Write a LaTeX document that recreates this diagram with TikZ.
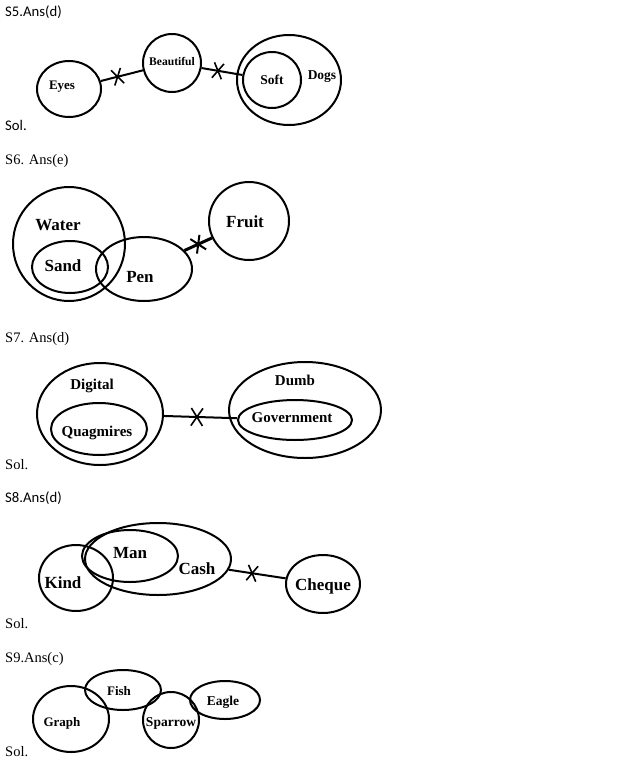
\documentclass[tikz,border=0pt]{standalone}
\usepackage{fontspec}
\setmainfont{Liberation Serif}
\newfontfamily\calibri{Carlito}
\usetikzlibrary{shapes.geometric,shapes.misc}

\tikzset{
  set/.style={ellipse, draw, line width=2pt, inner sep=0pt},
  lbl/.style={font=\bfseries\fontsize{#1}{#1}\selectfont, inner sep=0pt},
  head/.style={anchor=west, inner sep=0pt, font=\fontsize{14.5}{14.5}\selectfont},
  headsf/.style={anchor=west, inner sep=0pt, font=\calibri\fontsize{14.7}{14.7}\selectfont},
  link/.style={line width=2pt},
  cut/.style={cross out, draw, line width=1.6pt, sloped, minimum width=8pt, minimum height=14pt, inner sep=0pt},
}

\begin{document}
\begin{tikzpicture}[x=1pt,y=-1pt]
  \useasboundingbox (0,0) rectangle (627,782);

  % S5
  \node[headsf] (t5) at (5,12) {S5.Ans(d)};
  \node[set, minimum width=64, minimum height=56] (eyes) at (69,89) {};
  \node[set, minimum size=58] (beautiful) at (172,63) {};
  \node[set, minimum width=104, minimum height=90] (dogs) at (289,80) {};
  \node[set, minimum width=58, minimum height=56] (soft) at (272,80) {};
  \node[lbl=13] (eyes-t) at (62,87) {Eyes};
  \node[lbl=11.6] (beautiful-t) at (172,61) {Beautiful};
  \node[lbl=13.5] (soft-t) at (272,80) {Soft};
  \node[lbl=13.5] (dogs-t) at (322,77) {Dogs};
  \draw[link] (eyes) -- node[cut, pos=0.4] {} (beautiful);
  \draw[link] (beautiful) -- node[cut, pos=0.4] {} (soft);
  \node[headsf] (s5) at (5,125) {Sol.};

  % S6
  \node[head] (t6) at (5,161) {S6. Ans(e)};
  \node[set, minimum width=112, minimum height=114] (water) at (69,244) {};
  \node[set, minimum width=76, minimum height=52] (sand) at (70,267) {};
  \node[set, minimum width=96, minimum height=64] (pen) at (144,269) {};
  \node[set, minimum width=80, minimum height=78] (fruit) at (249,221) {};
  \node[lbl=17] (water-t) at (58,225) {Water};
  \node[lbl=17] (sand-t) at (63,266) {Sand};
  \node[lbl=17] (pen-t) at (140,277) {Pen};
  \node[lbl=17] (fruit-t) at (245,222) {Fruit};
  \draw[line width=3pt] (pen) -- node[cut, pos=0.5, line width=2pt] {} (fruit);

  % S7
  \node[head] (t7) at (5,339) {S7. Ans(d)};
  \node[set, minimum width=126, minimum height=102] (digital) at (100,414) {};
  \node[set, minimum width=96, minimum height=52] (quag) at (99,429) {};
  \node[set, minimum width=152, minimum height=96] (dumb) at (305,410) {};
  \node[set, minimum width=114, minimum height=40] (gov) at (295,420) {};
  \node[lbl=15] (digital-t) at (92,386) {Digital};
  \node[lbl=15] (quag-t) at (97,433) {Quagmires};
  \node[lbl=15] (dumb-t) at (295,380) {Dumb};
  \node[lbl=15] (gov-t) at (292,418) {Government};
  \draw[link] (digital) -- node[cut, pos=0.45, minimum width=10pt, minimum height=16pt] {} (gov);
  \node[head] (s7) at (5,465) {Sol.};

  % S8
  \node[headsf] (t8) at (5,498) {S8.Ans(d)};
  \node[set, minimum width=74, minimum height=66] (kind) at (76,578) {};
  \node[set, minimum width=96, minimum height=52] (man) at (130,556) {};
  \node[set, minimum width=146, minimum height=72] (cash) at (158,559) {};
  \node[set, minimum width=74, minimum height=58] (cheque) at (323,584) {};
  \node[lbl=17] (kind-t) at (63,583) {Kind};
  \node[lbl=17] (man-t) at (130,553) {Man};
  \node[lbl=17] (cash-t) at (197,569) {Cash};
  \node[lbl=17] (cheque-t) at (323,586) {Cheque};
  \draw[link] (cash) -- node[cut, pos=0.41] {} (cheque);
  \node[head] (s8) at (5,624) {Sol.};

  % S9
  \node[head] (t9) at (5,659) {S9.Ans(c)};
  \node[set, minimum width=76, minimum height=66] (graph) at (71,719) {};
  \node[set, minimum width=76, minimum height=40] (fish) at (123,690) {};
  \node[set, minimum width=56, minimum height=56] (sparrow) at (171,720) {};
  \node[set, minimum width=70, minimum height=38] (eagle) at (225,700) {};
  \node[lbl=13] (graph-t) at (62,723) {Graph};
  \node[lbl=13] (fish-t) at (119,691) {Fish};
  \node[lbl=13.5] (sparrow-t) at (171,723) {Sparrow};
  \node[lbl=13.5] (eagle-t) at (223,702) {Eagle};
  \node[head] (s9) at (5,752) {Sol.};
\end{tikzpicture}
\end{document}
